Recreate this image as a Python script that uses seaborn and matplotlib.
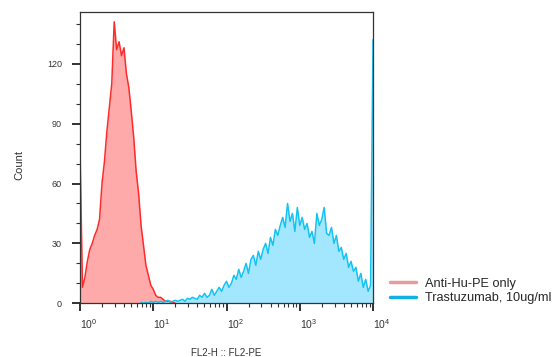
import numpy as np
import pandas as pd
import matplotlib.pyplot as plt
import seaborn as sns
from matplotlib.lines import Line2D
from matplotlib.ticker import MultipleLocator, LogLocator, NullFormatter

# FlowJo-style histogram: 30 channels per decade, 10^0 .. 10^4
channels_per_decade = 30

red_start = 0
red_counts = [78, 8, 13, 21, 27, 30, 34, 37, 42, 60,
              71, 86, 98, 110, 141, 127, 131, 124, 128, 115,
              108, 96, 83, 66, 55, 39, 29, 19, 14, 9,
              7, 4, 3, 3, 2, 1, 1, 1, 0.5, 0]

blue_start = 25
blue_counts = [0.5, 0, 0.5, 0, 1, 0.5, 1, 0.5, 1, 0.5,
               1, 1.5, 0.5, 1, 1.5, 1, 1.5, 2, 1, 2.5,
               2, 3, 2.5, 2, 4, 3, 5, 3, 4, 7,
               4, 6, 8, 6, 9, 11, 8, 10, 14, 12,
               17, 13, 16, 20, 15, 22, 24, 19, 26, 22,
               27, 30, 25, 33, 29, 37, 34, 39, 43, 38,
               50, 41, 45, 36, 48, 39, 43, 37, 40, 33,
               36, 30, 45, 39, 42, 48, 35, 34, 38, 30,
               34, 26, 28, 22, 25, 18, 21, 16, 18, 11,
               15, 8, 12, 6, 9, 132]

samples = ['Anti-Hu-PE only', 'Trastuzumab, 10ug/ml']
line_colors = ['#ff2b2b', '#14c3f2']
fill_colors = ['#ffaaaa', '#a3e7ff']
legend_colors = ['#e69c9c', '#14aee6']

frames = []
for name, start, counts in [(samples[0], red_start, red_counts),
                            (samples[1], blue_start, blue_counts)]:
    ch = start + np.arange(len(counts))
    frames.append(pd.DataFrame({'fl': 10.0 ** (ch / channels_per_decade),
                                'count': counts, 'sample': name}))
df = pd.concat(frames, ignore_index=True)

sns.set_style('ticks')
plt.rcParams['font.family'] = ['Liberation Sans', 'DejaVu Sans']

fig = plt.figure(figsize=(5.58, 3.57), dpi=100)
ax = fig.add_axes([0.1434, 0.1504, 0.5251, 0.8166])

for name, fc in zip(samples, fill_colors):
    sub = df[df['sample'] == name]
    ax.fill_between(sub['fl'], sub['count'], color=fc, lw=0, zorder=1)

sns.lineplot(data=df, x='fl', y='count', hue='sample', palette=line_colors,
             estimator=None, linewidth=1.1, legend=False, ax=ax, zorder=2)

ax.set_xscale('log')
ax.set_xlim(1, 1e4)
ax.set_ylim(0, 146)

ax.set_yticks([0, 30, 60, 90, 120])
ax.yaxis.set_minor_locator(MultipleLocator(10))
ax.xaxis.set_major_locator(LogLocator(base=10))
ax.xaxis.set_minor_locator(LogLocator(base=10, subs=np.arange(2, 10)))
ax.xaxis.set_minor_formatter(NullFormatter())

ax.tick_params(which='major', direction='out', length=6, width=1.3,
               color='#222222', labelsize=6.5, labelcolor='#333333', pad=7)
ax.tick_params(which='minor', direction='out', length=3, width=0.8, color='#333333')
ax.tick_params(axis='x', which='major', labelsize=7.5, pad=4)
ax.tick_params(right=False, top=False)

fig.canvas.draw()
xlabels = ax.get_xticklabels()
for i, t in enumerate(xlabels):
    t.set_horizontalalignment('right' if i == len(xlabels) - 1 else 'left')

for s in ax.spines.values():
    s.set_color('#333333')
    s.set_linewidth(0.9)

ax.set_xlabel('FL2-H :: FL2-PE', fontsize=7, color='#333333')
ax.xaxis.set_label_coords(0.5, -0.153)
ax.set_ylabel('Count', fontsize=8, color='#333333')
ax.yaxis.set_label_coords(-0.19, 0.474)

handles = [Line2D([], [], color=c, lw=2.5) for c in legend_colors]
ax.legend(handles, samples, loc='lower left', bbox_to_anchor=(1.058, -0.004),
          frameon=False, fontsize=9.2, handlelength=2.0, handletextpad=0.75,
          labelspacing=0.2, borderpad=0, borderaxespad=0)

fig.savefig('out.png', dpi=100)
